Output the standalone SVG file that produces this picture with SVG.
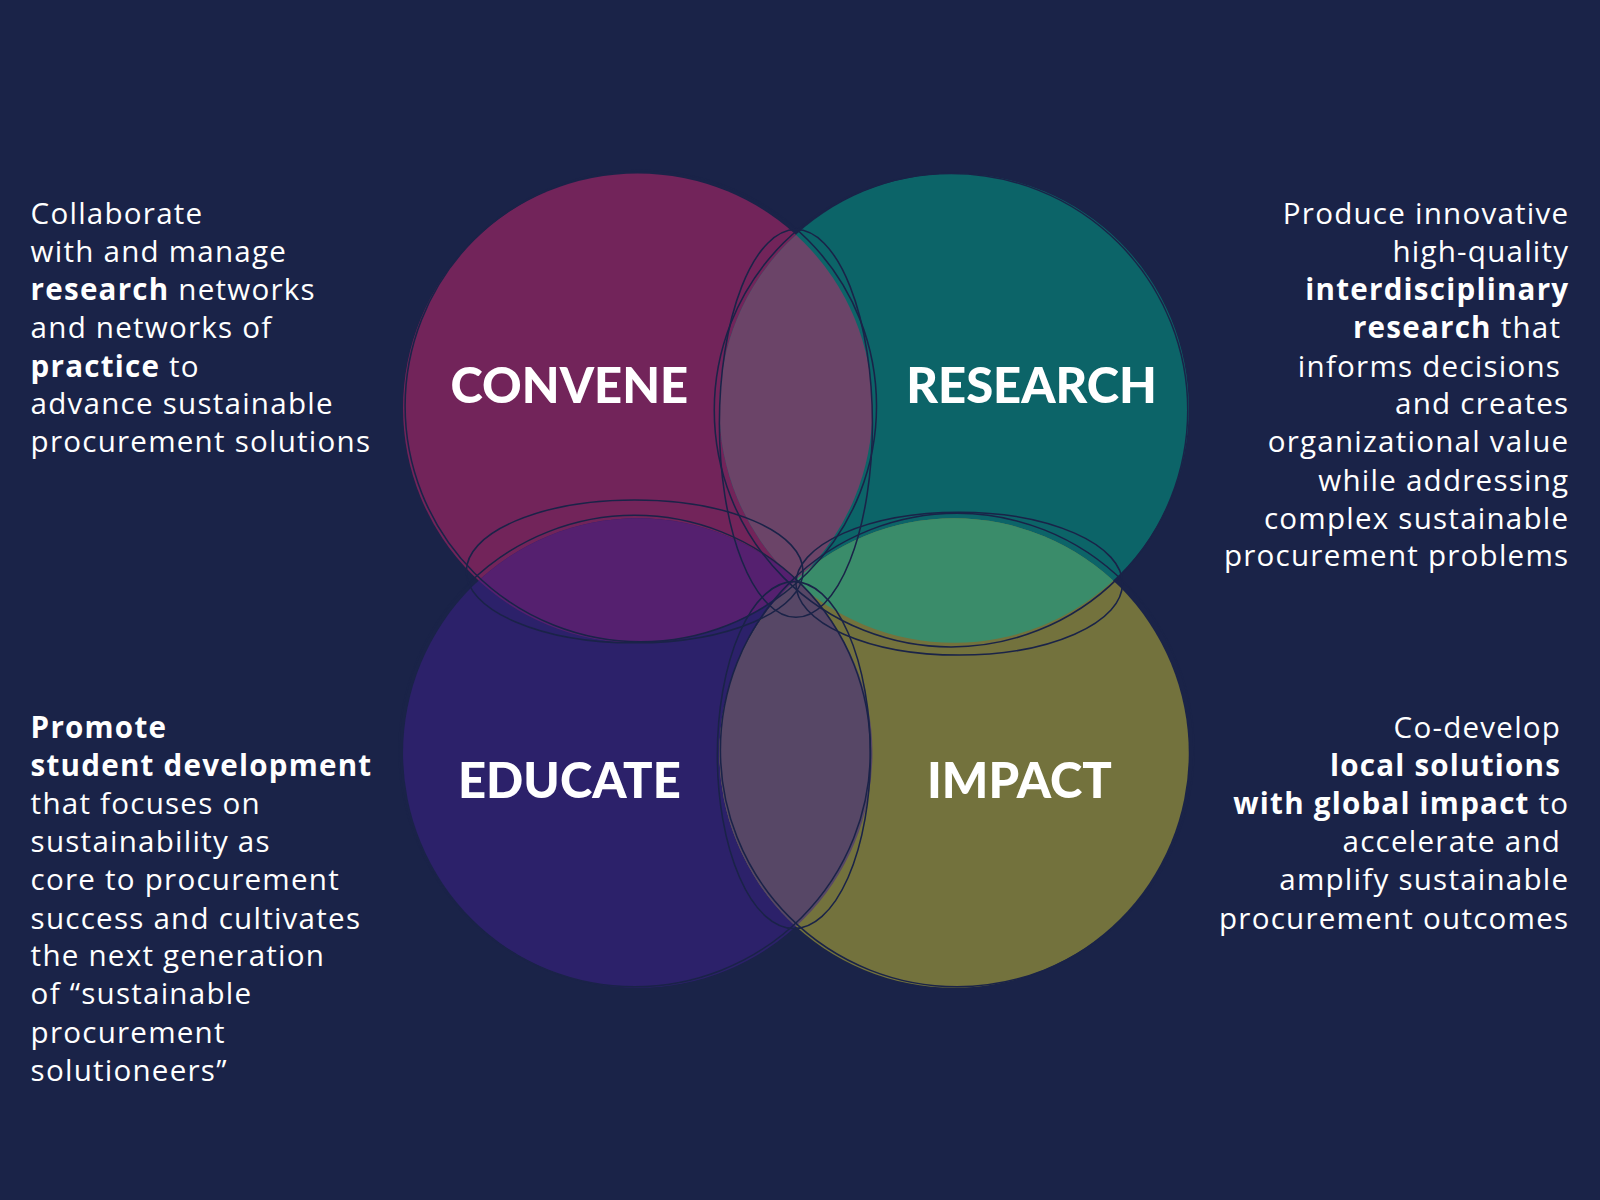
<svg xmlns="http://www.w3.org/2000/svg" width="1600" height="1200" viewBox="0 0 1600 1200">
<style>
.t{font-family:"Open Sans","Noto Sans",sans-serif;font-size:29px;letter-spacing:1.2px;fill:#fff}
.b{font-weight:bold}
.lab{font-family:Lato,"Noto Sans",sans-serif;font-size:48px;font-weight:900;fill:#fff}
.ol{fill:none;stroke:#1a2348;stroke-width:1.5}
</style>
<defs>
<clipPath id="cC"><circle cx="625" cy="400" r="230"/></clipPath>
<clipPath id="cR"><circle cx="935" cy="400" r="230"/></clipPath>
<clipPath id="cE"><circle cx="625" cy="738" r="230"/></clipPath>
<clipPath id="cI"><circle cx="935" cy="738" r="230"/></clipPath>
</defs>
<rect width="1600" height="1200" fill="#1a2348"/>
<g transform="scale(1.0204)">
<g id="convene"><circle cx="625" cy="400" r="230" fill="#72245a"/></g>
<g id="research"><circle cx="935" cy="400" r="230" fill="#0c6468"/></g>
<g id="educate"><circle cx="625" cy="738" r="230" fill="#2c216a"/></g>
<g id="impact"><circle cx="935" cy="738" r="230" fill="#73723d"/></g>
<g id="overlaps">
<circle cx="935" cy="400" r="230" fill="#6b4468" clip-path="url(#cC)"/>
<circle cx="625" cy="738" r="230" fill="#55206f" clip-path="url(#cC)"/>
<circle cx="935" cy="738" r="230" fill="#3a8c6a" clip-path="url(#cR)"/>
<circle cx="935" cy="738" r="230" fill="#574766" clip-path="url(#cE)"/>
</g>
<g id="outlines">
<circle class="ol" cx="628" cy="398" r="231"/>
<circle class="ol" cx="932" cy="402" r="232"/>
<circle class="ol" cx="622" cy="736" r="231"/>
<circle class="ol" cx="938" cy="735" r="232"/>
<ellipse class="ol" cx="622" cy="560" rx="165" ry="70"/>
<ellipse class="ol" cx="940" cy="572" rx="160" ry="70"/>
<ellipse class="ol" cx="780" cy="415" rx="75" ry="190"/>
<ellipse class="ol" cx="778" cy="740" rx="75" ry="170"/>
</g>
<g id="labels">
<text class="lab" x="558" y="395" text-anchor="middle">CONVENE</text>
<text class="lab" x="1011" y="395" text-anchor="middle">RESEARCH</text>
<text class="lab" x="558" y="782" text-anchor="middle">EDUCATE</text>
<text class="lab" x="999" y="782" text-anchor="middle">IMPACT</text>
</g>
<g id="text-tl" class="t">
<text x="30" y="220">Collaborate</text>
<text x="30" y="257">with and manage</text>
<text x="30" y="294"><tspan class="b">research</tspan> networks</text>
<text x="30" y="331">and networks of</text>
<text x="30" y="369"><tspan class="b">practice</tspan> to</text>
<text x="30" y="406">advance sustainable</text>
<text x="30" y="443">procurement solutions</text>
</g>
<g id="text-tr" class="t" text-anchor="end">
<text x="1538" y="220">Produce innovative</text>
<text x="1538" y="257">high-quality</text>
<text x="1538" y="294" class="b">interdisciplinary</text>
<text x="1530" y="331"><tspan class="b">research</tspan> that</text>
<text x="1530" y="369">informs decisions</text>
<text x="1538" y="406">and creates</text>
<text x="1538" y="443">organizational value</text>
<text x="1538" y="481">while addressing</text>
<text x="1538" y="518">complex sustainable</text>
<text x="1538" y="555">procurement problems</text>
</g>
<g id="text-bl" class="t">
<text x="30" y="723" class="b">Promote</text>
<text x="30" y="760" class="b">student development</text>
<text x="30" y="798">that focuses on</text>
<text x="30" y="835">sustainability as</text>
<text x="30" y="872">core to procurement</text>
<text x="30" y="910">success and cultivates</text>
<text x="30" y="947">the next generation</text>
<text x="30" y="984">of “sustainable</text>
<text x="30" y="1022">procurement</text>
<text x="30" y="1059">solutioneers”</text>
</g>
<g id="text-br" class="t" text-anchor="end">
<text x="1530" y="723">Co-develop</text>
<text x="1530" y="760" class="b">local solutions</text>
<text x="1538" y="798"><tspan class="b">with global impact</tspan> to</text>
<text x="1530" y="835">accelerate and</text>
<text x="1538" y="872">amplify sustainable</text>
<text x="1538" y="910">procurement outcomes</text>
</g>
</g>
</svg>
